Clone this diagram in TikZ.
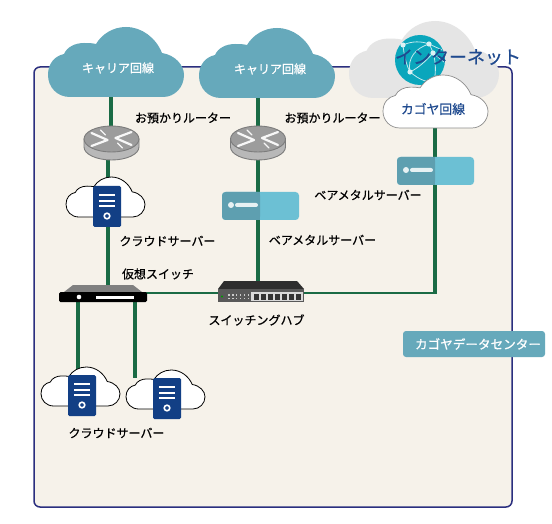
\documentclass[tikz,border=0pt]{standalone}
\usepackage{fontspec}
\setmainfont{Noto Sans CJK JP}
\newfontfamily\medfont[RawFeature={embolden=0.7}]{Noto Sans CJK JP}
\definecolor{teal1}{HTML}{66A9BB}
\definecolor{green1}{HTML}{1A6B45}
\definecolor{frameblue}{HTML}{2B2F7F}
\definecolor{paper}{HTML}{F6F2EA}
\definecolor{navy}{HTML}{123F85}
\definecolor{titleblue}{HTML}{1F4A8F}
\definecolor{bmdark}{HTML}{5E9FB0}
\definecolor{bmlight}{HTML}{6CC0D4}
\definecolor{globe}{HTML}{0AA6BC}
\definecolor{rgray}{HTML}{B8B8B8}
\definecolor{rtop}{HTML}{9C9C9C}
\definecolor{redge}{HTML}{7C7C7C}
\tikzset{
  lbl/.style={font=\fontsize{12}{14}\selectfont\medfont,text=black,inner sep=0pt,anchor=center},
  wlbl/.style={font=\fontsize{12}{14}\selectfont\medfont,text=white,inner sep=0pt,anchor=center},
  link/.style={draw=green1,line width=3.4pt},
  hlink/.style={draw=green1,line width=2.6pt},
  tealcloud/.style={fill=teal1,draw=none},
  whitecloud/.style={fill=white,draw=black,line width=0.8pt},
  globeline/.style={draw=white!75!globe,line width=0.8pt},
}
\newcommand{\cloudat}[5]{%
  \path[shift={(#1,#2)},xscale=#3/136,yscale=#4/70,#5]
    (22,70) .. controls (9,70) and (0,60) .. (0,48)
    .. controls (0,36) and (7,29) .. (16,27)
    .. controls (19,20) and (27,16) .. (36,16)
    .. controls (40,16) and (44,16) .. (48,17)
    .. controls (54,7) and (65,0) .. (78,0)
    .. controls (94,0) and (108,11) .. (114,26)
    .. controls (127,28) and (136,38) .. (136,48)
    .. controls (136,60) and (127,70) .. (115,70) -- cycle;}
\newcommand{\routerat}[2]{%
  \begin{scope}[shift={(#1,#2)}]
    \path[fill=rgray,draw=redge,line width=0.9pt] (-27.5,0) -- (-27.5,8) arc[start angle=180,end angle=0,x radius=27.5,y radius=13] -- (27.5,0) -- cycle;
    \path[fill=rtop,draw=redge,line width=0.9pt] (0,0) ellipse[x radius=27.5,y radius=13];
    \path[draw=white!92!rtop,line width=2.2pt,line cap=round]
      (-20,-6) -- (-4,1) (-20,7) -- (-4,1) (20,-7) -- (4,-1) (20,6) -- (4,-1);
    \path[draw=white!92!rtop,line width=1.4pt,line cap=round]
      (-11,-9) -- (-6,-4) (11,9) -- (6,4);
  \end{scope}}
\newcommand{\serverat}[2]{%
  \begin{scope}[shift={(#1,#2)}]
    \path[fill=navy,rounded corners=1.5pt] (0,0) rectangle (28,41);
    \path[draw=white,line width=1.1pt] (6,9) -- (22,9) (6,15) -- (22,15) (6,20) -- (22,20);
    \path[draw=white,line width=1.6pt] (14,30) circle[radius=2.8];
  \end{scope}}
\newcommand{\bareat}[2]{%
  \begin{scope}[shift={(#1,#2)}]
    \path[fill=bmlight,rounded corners=3.5pt] (0,0) rectangle (77,28);
    \path[fill=bmdark,rounded corners=3.5pt] (38,0) -- (0,0) -- (0,28) -- (38,28) -- cycle;
    \path[fill=bmdark] (30,0) rectangle (38,28);
    \path[fill=white!85!bmdark] (9,13) circle[radius=3];
    \path[fill=white!85!bmdark,rounded corners=2pt] (13,11) rectangle (36,15);
  \end{scope}}
\begin{document}
\begin{tikzpicture}[x=1pt,y=-1pt]
\useasboundingbox (0,0) rectangle (552,524);
\path[fill=white] (0,0) rectangle (552,524);
% frame
\path[fill=paper,draw=frameblue,line width=1.5pt,rounded corners=6pt] (34,67) rectangle (512,507);
% internet cloud
\cloudat{349}{21}{150}{77}{fill=black!10}
\path[fill=globe] (420,60) circle[radius=25];
\path[globeline]
  (403,45) .. controls (412,41) and (421,41) .. (429,44)
  (429,44) .. controls (431,47) and (432,50) .. (433,53)
  (433,53) .. controls (425,62) and (418,68) .. (410,72)
  (403,45) .. controls (404,55) and (406,64) .. (410,72)
  (429,44) .. controls (416,48) and (407,58) .. (410,72)
  (410,72) .. controls (420,80) and (428,84) .. (437,80)
  (433,53) .. controls (436,62) and (436,72) .. (434,82)
  (433,53) -- (444,62) (429,44) -- (442,50);
\foreach \p in {(403,45),(429,44),(433,53),(410,72)} \path[fill=white!85!globe] \p circle[radius=2.6];
% named ends of connectors
\coordinate (c1b) at (111,97);
\coordinate (r1t) at (111,128);
\coordinate (r1b) at (108,160);
\coordinate (s1t) at (108,180);
\coordinate (s1b) at (108,226);
\coordinate (swt) at (108,286);
\coordinate (swr) at (146,293);
\coordinate (swl1) at (78,302);
\coordinate (swl2) at (135,302);
\coordinate (cs1) at (78,369);
\coordinate (cs2) at (135,378);
\coordinate (c2b) at (258,97);
\coordinate (r2t) at (258,128);
\coordinate (r2b) at (258,160);
\coordinate (hubt) at (258,282);
\coordinate (hubl) at (219,293);
\coordinate (hubr) at (303,293);
\coordinate (c3b) at (435,127);
\coordinate (corner) at (435,293);
% connectors
\draw[link] (c1b) -- (r1t);
\draw[link] (r1b) -- (s1t);
\draw[link] (s1b) -- (swt);
\draw[hlink] (swr) -- (hubl);
\draw[link] (swl1) -- (cs1);
\draw[link] (swl2) -- (cs2);
\draw[link] (c2b) -- (r2t);
\draw[link] (r2b) -- (hubt);
\draw[hlink] (hubr) -- ([xshift=1.7pt]corner);
\draw[link] (corner) -- (c3b);
% clouds
\cloudat{48}{27}{136}{70}{tealcloud}
\cloudat{199}{28}{136}{70}{tealcloud}
\cloudat{383}{75}{105}{53}{fill=white,draw=black!45,line width=0.7pt}
\cloudat{66}{177}{79}{40}{whitecloud}
\cloudat{41}{367}{79}{39}{whitecloud}
\cloudat{126}{370}{79}{39}{whitecloud}
% devices
\routerat{111.5}{139}
\routerat{258}{139}
\serverat{93}{186}
\serverat{68}{375}
\serverat{153}{378}
\bareat{397}{157}
\bareat{222}{192}
% virtual switch
\path[fill=black!50] (64,292) -- (73,285) -- (133,285) -- (142,292) -- cycle;
\path[fill=black,rounded corners=1.5pt] (59,292) rectangle (147,302);
\path[fill=white] (79,297) circle[radius=2.3];
\path[fill=white] (96,295.5) rectangle (134,299);
% hub
\path[fill=black!82] (218,289) -- (224,281) -- (297,281) -- (304,289) -- cycle;
\path[fill=black!65] (218,289) rectangle (304,302);
\path[fill=white!85!black] (251,292) rectangle (303,300.5);
\foreach \i in {0,...,6} \path[fill=black!80] ({253.5+\i*7},294) rectangle ({258.5+\i*7},299.5);
\foreach \i in {0,...,5} {\path[fill=black!20] ({228+\i*3.9},294) rectangle ({229.6+\i*3.9},295.5); \path[fill=black!20] ({228+\i*3.9},297.5) rectangle ({229.6+\i*3.9},299);}
\path[fill=green!60!black] (222,296.5) circle[radius=1.2];
% data centre label
\path[fill=teal1,rounded corners=3pt] (403,331) rectangle (545,357);
% texts
\node[wlbl] (t1) at (118,68) {キャリア回線};
\node[wlbl] (t2) at (270,69) {キャリア回線};
\node[inner sep=0pt,font=\fontsize{12.8}{14}\selectfont\medfont,text=titleblue] (t3) at (433,109) {カゴヤ回線};
\node[inner sep=0pt,font=\fontsize{18}{20}\selectfont\medfont,text=titleblue] (t4) at (458,57) {インターネット};
\node[lbl] (t5) at (183,118) {お預かりルーター};
\node[lbl] (t6) at (332.5,118) {お預かりルーター};
\node[lbl] (t7) at (167.5,241) {クラウドサーバー};
\node[lbl] (t8) at (322.5,240) {ベアメタルサーバー};
\node[lbl] (t9) at (368,195) {ベアメタルサーバー};
\node[lbl] (t10) at (158,274) {仮想スイッチ};
\node[lbl] (t11) at (256.5,320) {スイッチングハブ};
\node[lbl] (t12) at (116.5,433) {クラウドサーバー};
\node[wlbl,font=\fontsize{12.6}{14}\selectfont\medfont] (t13) at (478,344) {カゴヤデータセンター};
\end{tikzpicture}
\end{document}
